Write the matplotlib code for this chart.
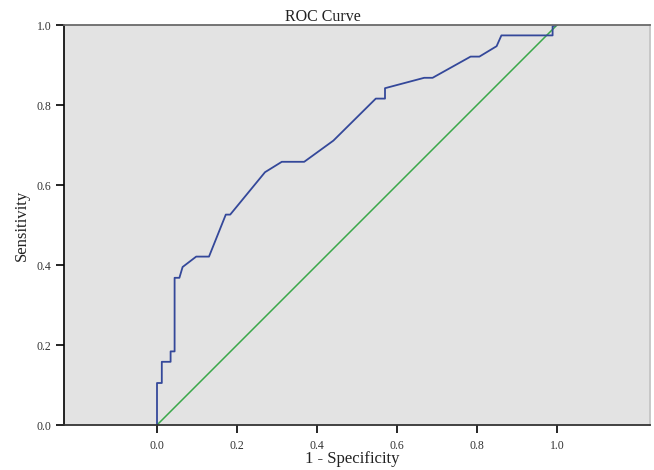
import matplotlib
matplotlib.use('Agg')
import matplotlib.pyplot as plt

plt.rcParams['font.family'] = ['Liberation Serif', 'DejaVu Serif']

# ROC curve points
fpr = [0.0, 0.0, 0.012, 0.012, 0.034, 0.034, 0.044, 0.044, 0.056, 0.064,
       0.098, 0.130, 0.172, 0.183, 0.270, 0.312, 0.368, 0.441, 0.547, 0.570,
       0.570, 0.668, 0.689, 0.784, 0.806, 0.849, 0.861, 0.989, 0.989, 1.0]
tpr = [0.0, 0.105, 0.105, 0.158, 0.158, 0.184, 0.184, 0.368, 0.368, 0.395,
       0.421, 0.421, 0.526, 0.526, 0.632, 0.658, 0.658, 0.711, 0.816, 0.816,
       0.842, 0.868, 0.868, 0.921, 0.921, 0.947, 0.974, 0.974, 0.997, 1.0]
ref_line = [0.0, 1.0]
ticks = [0.0, 0.2, 0.4, 0.6, 0.8, 1.0]

fig = plt.figure(figsize=(6.54, 4.70), dpi=100)
ax = fig.add_axes([64 / 654, 45 / 470, 586 / 654, 400 / 470])
ax.set_facecolor('#e3e3e3')

ax.plot(ref_line, ref_line, color='#3aa84a', lw=1.1)
ax.plot(fpr, tpr, color='#34489a', lw=1.3)

ax.set_xlim(-0.2325, 1.2325)
ax.set_ylim(0, 1)
ax.set_xticks(ticks)
ax.set_yticks(ticks)
ax.set_xticklabels([f'{t:.1f}' for t in ticks])
ax.set_yticklabels([f'{t:.1f}' for t in ticks])
ax.tick_params(axis='both', direction='out', length=6, width=1.2,
               labelsize=8.5, labelcolor='#333333')
ax.tick_params(axis='x', pad=5)
ax.tick_params(axis='y', pad=3)

ax.spines['left'].set_color('black')
ax.spines['left'].set_linewidth(1.2)
ax.spines['bottom'].set_color('#333333')
ax.spines['bottom'].set_linewidth(1.3)
ax.spines['top'].set_color('#6a6a6a')
ax.spines['top'].set_linewidth(1.3)
ax.spines['right'].set_color('#c4c4c4')
ax.spines['right'].set_linewidth(1.3)

fig.text(323 / 654, 1 - 21 / 470, 'ROC Curve', ha='center', va='baseline',
         fontsize=11.5, color='#222222')
fig.text(352 / 654, 1 - 463 / 470, '1 - Specificity', ha='center', va='baseline',
         fontsize=12, color='#222222')
fig.text(22 / 654, 1 - 225 / 470, 'Sensitivity', ha='center', va='center',
         rotation=90, fontsize=12, color='#222222')

fig.savefig('out.png', dpi=100)
